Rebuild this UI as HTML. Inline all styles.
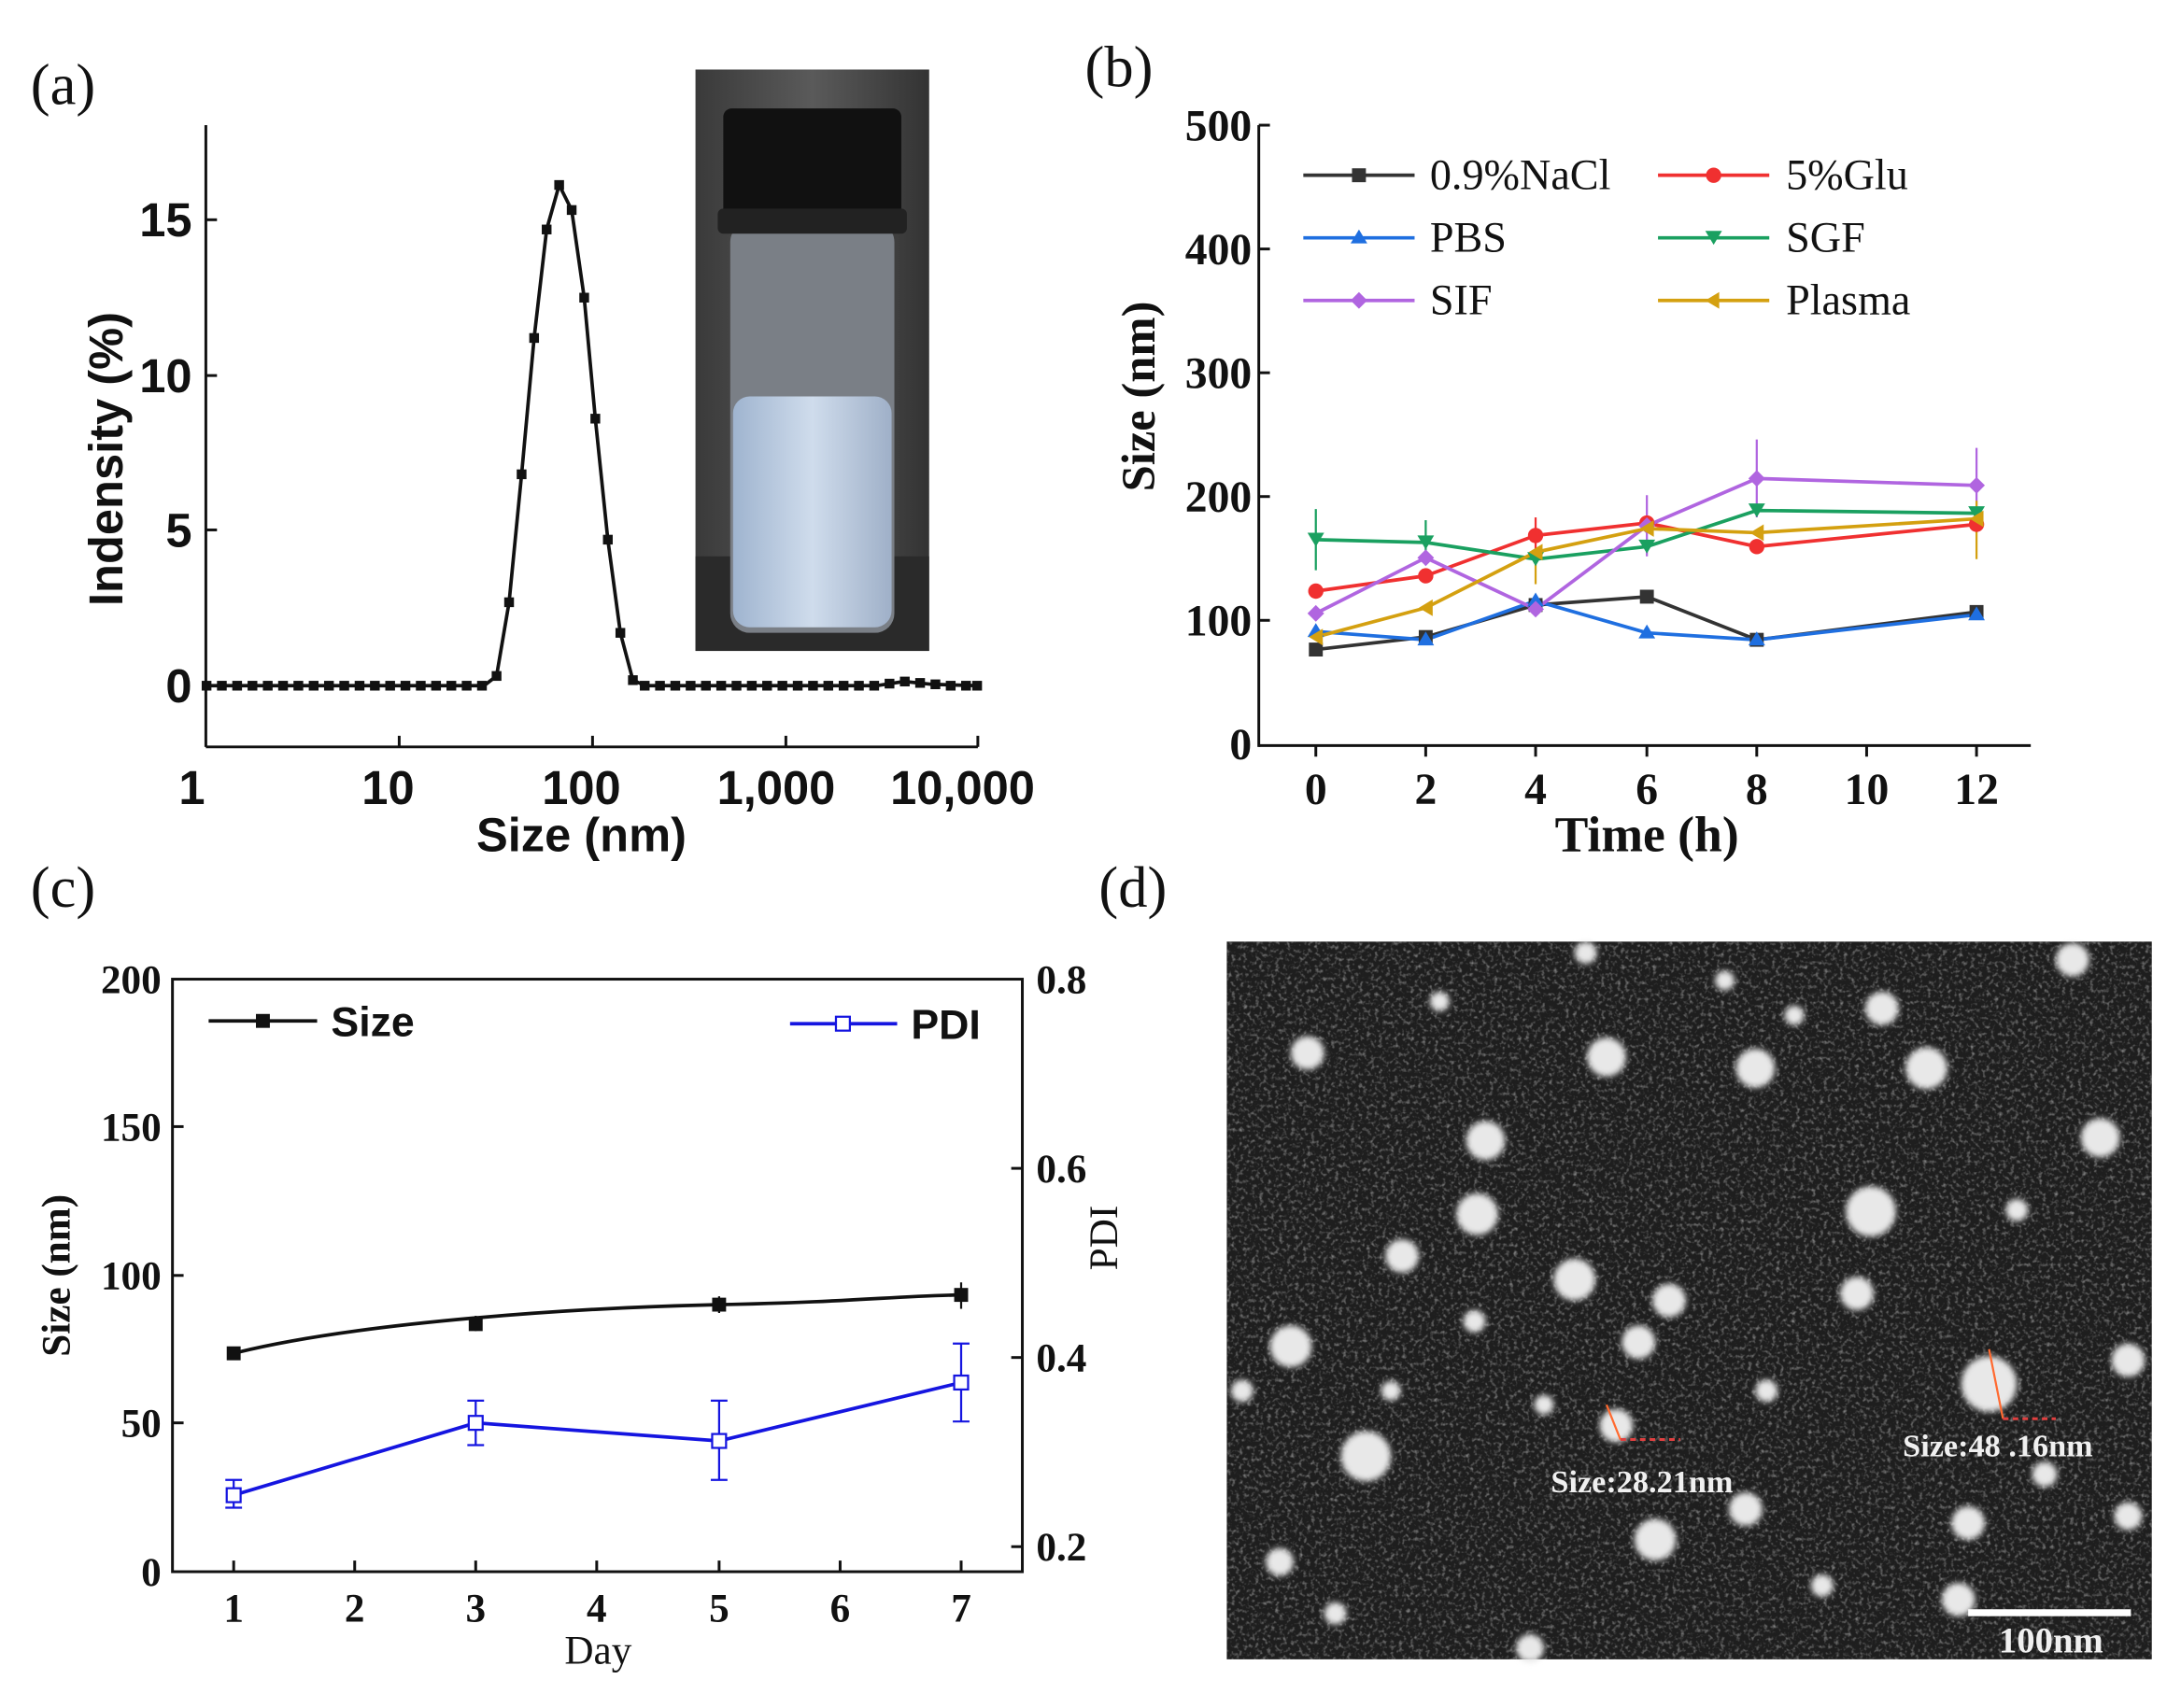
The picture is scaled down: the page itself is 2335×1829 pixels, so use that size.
<!DOCTYPE html>
<html><head><meta charset="utf-8"><style>html,body{margin:0;padding:0;background:#fff}svg{display:block}</style></head>
<body>
<svg width="2335" height="1829" viewBox="0 0 1568 1228" preserveAspectRatio="none" xmlns="http://www.w3.org/2000/svg">
<defs>
<filter id="noise" x="0" y="0" width="100%" height="100%">
<feTurbulence type="fractalNoise" baseFrequency="0.35" numOctaves="2" seed="3"/>
<feColorMatrix type="matrix" values="0 0 0 0 0.45  0 0 0 0 0.45  0 0 0 0 0.45  0 0 0 1.6 -0.8"/>
</filter>
<filter id="blur"><feGaussianBlur stdDeviation="2.2"/></filter>
<linearGradient id="bg" x1="0" x2="1"><stop offset="0" stop-color="#3a3a3a"/><stop offset="0.5" stop-color="#5a5a5a"/><stop offset="1" stop-color="#333"/></linearGradient>
<linearGradient id="liq" x1="0" x2="1"><stop offset="0" stop-color="#9fb4cf"/><stop offset="0.5" stop-color="#cfdcec"/><stop offset="1" stop-color="#9fb0c8"/></linearGradient>
</defs>

<g font-family="Liberation Serif, serif" font-size="42" fill="#111">
<text x="22" y="75">(a)</text><text x="780" y="62">(b)</text>
<text x="22" y="652">(c)</text><text x="790" y="652">(d)</text>
</g>

<!-- ===== Panel (a) ===== -->
<g stroke="#111" stroke-width="2" fill="none">
<line x1="148" y1="90" x2="148" y2="537"/><line x1="148" y1="537" x2="703" y2="537"/>
<line x1="148" y1="493" x2="156" y2="493"/><line x1="148" y1="381" x2="156" y2="381"/>
<line x1="148" y1="270" x2="156" y2="270"/><line x1="148" y1="158" x2="156" y2="158"/>
<line x1="287" y1="537" x2="287" y2="529"/><line x1="426" y1="537" x2="426" y2="529"/><line x1="565" y1="537" x2="565" y2="529"/><line x1="703" y1="537" x2="703" y2="529"/>
</g>
<g font-family="Liberation Sans, sans-serif" font-weight="bold" font-size="34" fill="#111">
<text x="138" y="505" text-anchor="end">0</text><text x="138" y="393" text-anchor="end">5</text>
<text x="138" y="282" text-anchor="end">10</text><text x="138" y="170" text-anchor="end">15</text>
<text x="138" y="578" text-anchor="middle">1</text><text x="279" y="578" text-anchor="middle">10</text>
<text x="418" y="578" text-anchor="middle">100</text><text x="558" y="578" text-anchor="middle">1,000</text><text x="692" y="578" text-anchor="middle">10,000</text>
<text x="418" y="612" text-anchor="middle">Size (nm)</text>
<text transform="translate(88,330) rotate(-90)" text-anchor="middle">Indensity (%)</text>
</g>
<polyline fill="none" stroke="#111" stroke-width="2.5" points="148,493 348,493 357,486 366,433 375,341 384,243 393,165 402,133 411,151 420,214 428,301 437,388 446,455 455,489 464,493 630,493 650,490 670,492 703,493"/>
<g fill="#111">
<rect x="145" y="489.5" width="7" height="7"/><rect x="156" y="489.5" width="7" height="7"/><rect x="167" y="489.5" width="7" height="7"/><rect x="178" y="489.5" width="7" height="7"/><rect x="189" y="489.5" width="7" height="7"/><rect x="200" y="489.5" width="7" height="7"/><rect x="211" y="489.5" width="7" height="7"/><rect x="222" y="489.5" width="7" height="7"/><rect x="233" y="489.5" width="7" height="7"/><rect x="244" y="489.5" width="7" height="7"/><rect x="255" y="489.5" width="7" height="7"/><rect x="266" y="489.5" width="7" height="7"/><rect x="277" y="489.5" width="7" height="7"/><rect x="288" y="489.5" width="7" height="7"/><rect x="299" y="489.5" width="7" height="7"/><rect x="310" y="489.5" width="7" height="7"/><rect x="321" y="489.5" width="7" height="7"/><rect x="332" y="489.5" width="7" height="7"/><rect x="343" y="489.5" width="7" height="7"/>
<rect x="353.5" y="482.5" width="7" height="7"/><rect x="362.5" y="429.5" width="7" height="7"/><rect x="371.5" y="337.5" width="7" height="7"/><rect x="380.5" y="239.5" width="7" height="7"/><rect x="389.5" y="161.5" width="7" height="7"/><rect x="398.5" y="129.5" width="7" height="7"/><rect x="407.5" y="147.5" width="7" height="7"/><rect x="416.5" y="210.5" width="7" height="7"/><rect x="424.5" y="297.5" width="7" height="7"/><rect x="433.5" y="384.5" width="7" height="7"/><rect x="442.5" y="451.5" width="7" height="7"/><rect x="451.5" y="485.5" width="7" height="7"/>
<rect x="460" y="489.5" width="7" height="7"/><rect x="471" y="489.5" width="7" height="7"/><rect x="482" y="489.5" width="7" height="7"/><rect x="493" y="489.5" width="7" height="7"/><rect x="504" y="489.5" width="7" height="7"/><rect x="515" y="489.5" width="7" height="7"/><rect x="526" y="489.5" width="7" height="7"/><rect x="537" y="489.5" width="7" height="7"/><rect x="548" y="489.5" width="7" height="7"/><rect x="559" y="489.5" width="7" height="7"/><rect x="570" y="489.5" width="7" height="7"/><rect x="581" y="489.5" width="7" height="7"/><rect x="592" y="489.5" width="7" height="7"/><rect x="603" y="489.5" width="7" height="7"/><rect x="614" y="489.5" width="7" height="7"/><rect x="625" y="489.5" width="7" height="7"/><rect x="636" y="488" width="7" height="7"/><rect x="647" y="486.5" width="7" height="7"/><rect x="658" y="487.5" width="7" height="7"/><rect x="669" y="488.5" width="7" height="7"/><rect x="680" y="489.5" width="7" height="7"/><rect x="691" y="489.5" width="7" height="7"/><rect x="699" y="489.5" width="7" height="7"/>
</g>
<rect x="500" y="50" width="168" height="418" fill="url(#bg)"/>
<rect x="500" y="400" width="168" height="68" fill="#2a2a2a"/>
<rect x="525" y="160" width="118" height="295" rx="14" fill="#7a7f86"/>
<rect x="527" y="285" width="114" height="166" rx="12" fill="url(#liq)"/>
<rect x="520" y="78" width="128" height="88" rx="6" fill="#111"/>
<rect x="516" y="150" width="136" height="18" rx="4" fill="#222"/>

<!-- ===== Panel (b) ===== -->
<g stroke="#111" stroke-width="2" fill="none">
<line x1="905" y1="90" x2="905" y2="537"/><line x1="905" y1="536" x2="1460" y2="536"/>
<line x1="905" y1="90" x2="913" y2="90"/><line x1="905" y1="179" x2="913" y2="179"/><line x1="905" y1="268" x2="913" y2="268"/><line x1="905" y1="357" x2="913" y2="357"/><line x1="905" y1="446" x2="913" y2="446"/>
<line x1="946" y1="536" x2="946" y2="544"/><line x1="1025" y1="536" x2="1025" y2="544"/><line x1="1104" y1="536" x2="1104" y2="544"/><line x1="1184" y1="536" x2="1184" y2="544"/><line x1="1263" y1="536" x2="1263" y2="544"/><line x1="1342" y1="536" x2="1342" y2="544"/><line x1="1421" y1="536" x2="1421" y2="544"/>
</g>
<g font-family="Liberation Serif, serif" font-weight="bold" font-size="32" fill="#111">
<text x="900" y="101" text-anchor="end">500</text><text x="900" y="190" text-anchor="end">400</text><text x="900" y="279" text-anchor="end">300</text><text x="900" y="368" text-anchor="end">200</text><text x="900" y="457" text-anchor="end">100</text><text x="900" y="546" text-anchor="end">0</text>
<text x="946" y="578" text-anchor="middle">0</text><text x="1025" y="578" text-anchor="middle">2</text><text x="1104" y="578" text-anchor="middle">4</text><text x="1184" y="578" text-anchor="middle">6</text><text x="1263" y="578" text-anchor="middle">8</text><text x="1342" y="578" text-anchor="middle">10</text><text x="1421" y="578" text-anchor="middle">12</text>
<text x="1184" y="612" text-anchor="middle" font-size="36">Time (h)</text>
<text transform="translate(830,285) rotate(-90)" text-anchor="middle" font-size="34">Size (nm)</text>
</g>
<g font-family="Liberation Serif, serif" font-size="31" fill="#111">
<text x="1028" y="136">0.9%NaCl</text><text x="1284" y="136">5%Glu</text>
<text x="1028" y="181">PBS</text><text x="1284" y="181">SGF</text>
<text x="1028" y="226">SIF</text><text x="1284" y="226">Plasma</text>
</g>
<g stroke-width="2.5" fill="none">
<line x1="937" y1="126" x2="1017" y2="126" stroke="#333"/><line x1="1192" y1="126" x2="1272" y2="126" stroke="#f03030"/>
<line x1="937" y1="171" x2="1017" y2="171" stroke="#1f6fe0"/><line x1="1192" y1="171" x2="1272" y2="171" stroke="#1aa060"/>
<line x1="937" y1="216" x2="1017" y2="216" stroke="#b065e0"/><line x1="1192" y1="216" x2="1272" y2="216" stroke="#d4a010"/>
</g>
<rect x="972" y="121" width="10" height="10" fill="#333"/><circle cx="1232" cy="126" r="5.5" fill="#f03030"/>
<path d="M977,165 l6,10 h-12z" fill="#1f6fe0"/><path d="M1226,166 h12 l-6,10z" fill="#1aa060"/>
<path d="M977,210 l6,6 -6,6 -6,-6z" fill="#b065e0"/><path d="M1226,216 l10,-6 v12z" fill="#d4a010"/>
<g stroke-width="1.5">
<line x1="946" y1="366" x2="946" y2="410" stroke="#1aa060"/><line x1="1025" y1="374" x2="1025" y2="405" stroke="#1aa060"/>
<line x1="1104" y1="372" x2="1104" y2="395" stroke="#f03030"/><line x1="1184" y1="356" x2="1184" y2="400" stroke="#b065e0"/>
<line x1="1263" y1="316" x2="1263" y2="372" stroke="#b065e0"/><line x1="1421" y1="322" x2="1421" y2="380" stroke="#b065e0"/>
<line x1="1421" y1="360" x2="1421" y2="402" stroke="#d4a010"/><line x1="1104" y1="395" x2="1104" y2="420" stroke="#d4a010"/>
</g>
<g fill="none" stroke-width="2.5">
<polyline stroke="#333" points="946,467 1025,458 1104,435 1184,429 1263,460 1421,440"/>
<polyline stroke="#f03030" points="946,425 1025,414 1104,385 1184,376 1263,393 1421,377"/>
<polyline stroke="#1f6fe0" points="946,454 1025,460 1104,432 1184,455 1263,460 1421,442"/>
<polyline stroke="#1aa060" points="946,388 1025,390 1104,402 1184,393 1263,367 1421,369"/>
<polyline stroke="#b065e0" points="946,441 1025,401 1104,438 1184,378 1263,344 1421,349"/>
<polyline stroke="#d4a010" points="946,458 1025,437 1104,397 1184,380 1263,383 1421,373"/>
</g>
<g>
<g fill="#333"><rect x="941" y="462" width="10" height="10"/><rect x="1020" y="453" width="10" height="10"/><rect x="1099" y="430" width="10" height="10"/><rect x="1179" y="424" width="10" height="10"/><rect x="1258" y="455" width="10" height="10"/><rect x="1416" y="435" width="10" height="10"/></g>
<g fill="#f03030"><circle cx="946" cy="425" r="5.5"/><circle cx="1025" cy="414" r="5.5"/><circle cx="1104" cy="385" r="5.5"/><circle cx="1184" cy="376" r="5.5"/><circle cx="1263" cy="393" r="5.5"/><circle cx="1421" cy="377" r="5.5"/></g>
<g fill="#1f6fe0"><path d="M946,448 l6,10 h-12z"/><path d="M1025,454 l6,10 h-12z"/><path d="M1104,426 l6,10 h-12z"/><path d="M1184,449 l6,10 h-12z"/><path d="M1263,454 l6,10 h-12z"/><path d="M1421,436 l6,10 h-12z"/></g>
<g fill="#1aa060"><path d="M940,383 h12 l-6,10z"/><path d="M1019,385 h12 l-6,10z"/><path d="M1098,397 h12 l-6,10z"/><path d="M1178,388 h12 l-6,10z"/><path d="M1257,362 h12 l-6,10z"/><path d="M1415,364 h12 l-6,10z"/></g>
<g fill="#b065e0"><path d="M946,435 l6,6 -6,6 -6,-6z"/><path d="M1025,395 l6,6 -6,6 -6,-6z"/><path d="M1104,432 l6,6 -6,6 -6,-6z"/><path d="M1184,372 l6,6 -6,6 -6,-6z"/><path d="M1263,338 l6,6 -6,6 -6,-6z"/><path d="M1421,343 l6,6 -6,6 -6,-6z"/></g>
<g fill="#d4a010"><path d="M941,458 l10,-6 v12z"/><path d="M1020,437 l10,-6 v12z"/><path d="M1099,397 l10,-6 v12z"/><path d="M1179,380 l10,-6 v12z"/><path d="M1258,383 l10,-6 v12z"/><path d="M1416,373 l10,-6 v12z"/></g>
</g>

<!-- ===== Panel (c) ===== -->
<rect x="124" y="704" width="611" height="426" fill="none" stroke="#111" stroke-width="2"/>
<g stroke="#111" stroke-width="2">
<line x1="124" y1="810" x2="132" y2="810"/><line x1="124" y1="917" x2="132" y2="917"/><line x1="124" y1="1023" x2="132" y2="1023"/>
<line x1="735" y1="840" x2="727" y2="840"/><line x1="735" y1="976" x2="727" y2="976"/><line x1="735" y1="1112" x2="727" y2="1112"/>
<line x1="168" y1="1130" x2="168" y2="1122"/><line x1="255" y1="1130" x2="255" y2="1122"/><line x1="342" y1="1130" x2="342" y2="1122"/><line x1="429" y1="1130" x2="429" y2="1122"/><line x1="517" y1="1130" x2="517" y2="1122"/><line x1="604" y1="1130" x2="604" y2="1122"/><line x1="691" y1="1130" x2="691" y2="1122"/>
</g>
<g font-family="Liberation Serif, serif" font-weight="bold" font-size="29" fill="#111">
<text x="116" y="714" text-anchor="end">200</text><text x="116" y="820" text-anchor="end">150</text><text x="116" y="927" text-anchor="end">100</text><text x="116" y="1033" text-anchor="end">50</text><text x="116" y="1140" text-anchor="end">0</text>
<text x="745" y="714">0.8</text><text x="745" y="850">0.6</text><text x="745" y="986">0.4</text><text x="745" y="1122">0.2</text>
<text x="168" y="1166" text-anchor="middle">1</text><text x="255" y="1166" text-anchor="middle">2</text><text x="342" y="1166" text-anchor="middle">3</text><text x="429" y="1166" text-anchor="middle">4</text><text x="517" y="1166" text-anchor="middle">5</text><text x="604" y="1166" text-anchor="middle">6</text><text x="691" y="1166" text-anchor="middle">7</text>
<text transform="translate(50,917) rotate(-90)" text-anchor="middle">Size (nm)</text>
</g>
<g font-family="Liberation Serif, serif" font-size="29" fill="#111">
<text x="430" y="1196" text-anchor="middle">Day</text>
<text transform="translate(803,890) rotate(-90)" text-anchor="middle">PDI</text>
</g>
<g font-family="Liberation Sans, sans-serif" font-weight="bold" font-size="30" fill="#111">
<text x="238" y="745">Size</text><text x="655" y="747">PDI</text>
</g>
<line x1="150" y1="734" x2="228" y2="734" stroke="#111" stroke-width="2.5"/><rect x="184" y="729" width="10" height="10" fill="#111"/>
<line x1="568" y1="736" x2="645" y2="736" stroke="#1515e0" stroke-width="2.5"/><rect x="601" y="731" width="10" height="10" fill="#fff" stroke="#1515e0" stroke-width="1.5"/>
<path d="M168,973 C260,950 420,940 517,938 S640,932 691,931" fill="none" stroke="#111" stroke-width="2.5"/>
<g stroke="#111" stroke-width="1.5"><line x1="342" y1="946" x2="342" y2="957"/><line x1="517" y1="932" x2="517" y2="944"/><line x1="691" y1="922" x2="691" y2="941"/></g>
<g fill="#111"><rect x="163" y="968" width="10" height="10"/><rect x="337" y="947" width="10" height="10"/><rect x="512" y="933" width="10" height="10"/><rect x="686" y="926" width="10" height="10"/></g>
<g stroke="#1515e0" stroke-width="1.5" fill="none">
<line x1="168" y1="1064" x2="168" y2="1084"/><line x1="162" y1="1064" x2="174" y2="1064"/><line x1="162" y1="1084" x2="174" y2="1084"/>
<line x1="342" y1="1007" x2="342" y2="1039"/><line x1="336" y1="1007" x2="348" y2="1007"/><line x1="336" y1="1039" x2="348" y2="1039"/>
<line x1="517" y1="1007" x2="517" y2="1064"/><line x1="511" y1="1007" x2="523" y2="1007"/><line x1="511" y1="1064" x2="523" y2="1064"/>
<line x1="691" y1="966" x2="691" y2="1022"/><line x1="685" y1="966" x2="697" y2="966"/><line x1="685" y1="1022" x2="697" y2="1022"/>
</g>
<polyline points="168,1075 342,1023 517,1036 691,994" fill="none" stroke="#1515e0" stroke-width="2.5"/>
<g fill="#fff" stroke="#1515e0" stroke-width="1.5"><rect x="163" y="1070" width="10" height="10"/><rect x="337" y="1018" width="10" height="10"/><rect x="512" y="1031" width="10" height="10"/><rect x="686" y="989" width="10" height="10"/></g>

<!-- ===== Panel (d) ===== -->
<rect x="882" y="677" width="665" height="516" fill="#1e1e1e"/>
<rect x="882" y="677" width="665" height="516" filter="url(#noise)" fill="#fff"/>
<g fill="#e8e8e8" filter="url(#blur)">
<circle cx="940" cy="757" r="12"/><circle cx="1155" cy="760" r="14"/><circle cx="1262" cy="768" r="14"/><circle cx="1385" cy="768" r="15"/><circle cx="1353" cy="725" r="12"/><circle cx="1490" cy="690" r="12"/><circle cx="1140" cy="685" r="8"/><circle cx="1510" cy="818" r="14"/><circle cx="1068" cy="820" r="14"/><circle cx="1062" cy="873" r="15"/><circle cx="1345" cy="871" r="18"/><circle cx="1008" cy="903" r="12"/><circle cx="1132" cy="920" r="15"/><circle cx="1200" cy="935" r="12"/><circle cx="1335" cy="930" r="12"/><circle cx="928" cy="968" r="15"/><circle cx="1178" cy="965" r="12"/><circle cx="1430" cy="995" r="20"/><circle cx="1530" cy="978" r="12"/><circle cx="982" cy="1047" r="18"/><circle cx="1162" cy="1025" r="12"/><circle cx="1255" cy="1085" r="12"/><circle cx="1190" cy="1107" r="15"/><circle cx="1415" cy="1095" r="12"/><circle cx="920" cy="1123" r="10"/><circle cx="1408" cy="1150" r="12"/><circle cx="893" cy="1000" r="8"/><circle cx="1100" cy="1185" r="10"/><circle cx="1530" cy="1090" r="10"/><circle cx="1060" cy="950" r="8"/><circle cx="1270" cy="1000" r="8"/><circle cx="1240" cy="705" r="7"/><circle cx="1000" cy="1000" r="7"/><circle cx="1470" cy="1060" r="9"/><circle cx="1035" cy="720" r="7"/><circle cx="1290" cy="730" r="7"/><circle cx="1450" cy="870" r="8"/><circle cx="960" cy="1160" r="8"/><circle cx="1310" cy="1140" r="8"/><circle cx="1110" cy="1010" r="7"/>
</g>
<g stroke="#ff6a30" stroke-width="1.5" fill="none"><line x1="1155" y1="1010" x2="1165" y2="1035"/><line x1="1430" y1="970" x2="1440" y2="1020"/></g>
<g stroke="#e04040" stroke-width="2" stroke-dasharray="4 3"><line x1="1165" y1="1035" x2="1208" y2="1035"/><line x1="1440" y1="1020" x2="1478" y2="1020"/></g>
<g font-family="Liberation Serif, serif" font-weight="bold" font-size="23" fill="#f0f0f0">
<text x="1115" y="1073">Size:28.21nm</text><text x="1368" y="1047">Size:48 .16nm</text>
<text x="1437" y="1188" font-size="26">100nm</text>
</g>
<rect x="1415" y="1157" width="117" height="5" fill="#fff"/>
</svg>
</body></html>
